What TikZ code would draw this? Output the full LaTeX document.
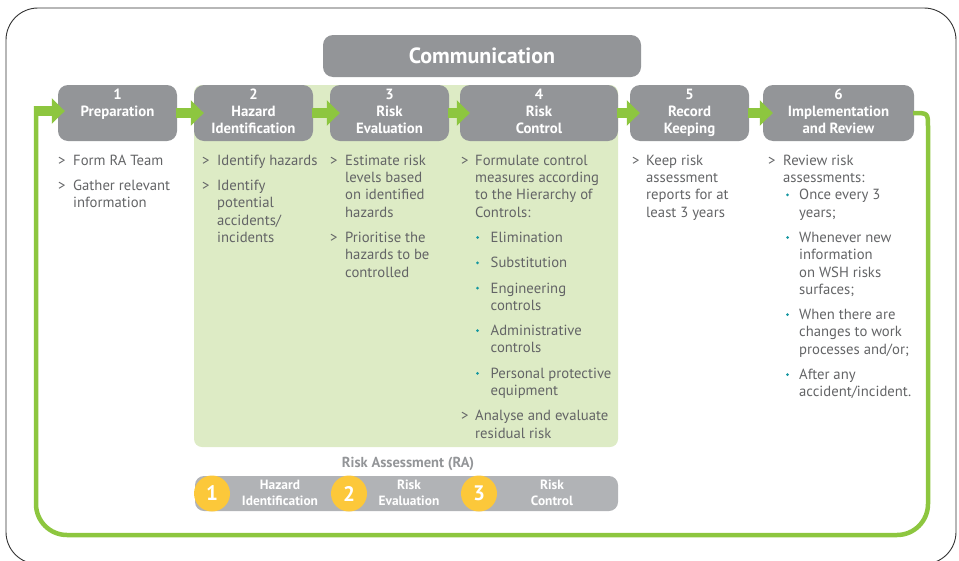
\documentclass[tikz,border=0pt]{standalone}
\usepackage{fontspec}
\setmainfont{PT Sans}
\usetikzlibrary{arrows.meta}
\definecolor{boxgray}{RGB}{147,149,152}
\definecolor{bargray}{RGB}{177,179,182}
\definecolor{panelgreen}{RGB}{221,235,197}
\definecolor{arrowgreen}{RGB}{141,198,63}
\definecolor{txtgray}{RGB}{99,100,102}
\definecolor{bulteal}{RGB}{20,150,160}
\definecolor{yel}{RGB}{252,200,58}
\definecolor{framegray}{RGB}{50,50,50}
\newcommand\stephd[3]{\strut#1\\\strut#2\\\strut#3}
\begin{document}
\begin{tikzpicture}[x=1pt,y=-1pt,
  stepbox/.style={rectangle, rounded corners=10pt, fill=boxgray, text=white,
    minimum height=56pt, inner sep=0pt, align=center,
    font=\bfseries\fontsize{14.8}{16.75}\selectfont},
  commbox/.style={rectangle, rounded corners=10pt, fill=boxgray, text=white,
    minimum width=318pt, minimum height=42pt, inner sep=0pt,
    font=\bfseries\fontsize{22}{26}\selectfont},
  garrow/.style={draw=arrowgreen, line width=10pt,
    -{Triangle[length=13pt,width=25pt]}},
  gline/.style={draw=arrowgreen, line width=4.5pt},
  body/.style={anchor=north west, yshift=12.11pt, inner sep=0pt, align=left,
    text=txtgray, font=\fontsize{14.7}{17.3}\selectfont},
  gt/.style={anchor=base west, inner sep=0pt, text=txtgray,
    font=\fontsize{14.7}{17.3}\selectfont},
  bul/.style={circle, fill=bulteal, inner sep=0pt, minimum size=3pt},
  numc/.style={circle, fill=yel, text=white, inner sep=0pt, minimum size=36pt,
    font=\bfseries\fontsize{21}{24}\selectfont},
  barlbl/.style={inner sep=0pt, align=center, text=white,
    font=\bfseries\fontsize{13.4}{16}\selectfont},
]
\useasboundingbox (0,0) rectangle (959,560);
% outer frame
\draw[framegray, line width=0.9pt, rounded corners=32pt] (6,8) rectangle (956,564);
% light green panel
\fill[panelgreen, rounded corners=8pt] (194,85) rectangle (618,447);
% communication
\node[commbox] (comm) at (482,56) {Communication};
% step boxes
\node[stepbox, minimum width=119pt] (b1) at (117.5,113) {\stephd{1}{Preparation}{}};
\node[stepbox, minimum width=119pt] (b2) at (253.5,113) {\stephd{2}{Hazard}{Identification}};
\node[stepbox, minimum width=119pt] (b3) at (389.5,113) {\stephd{3}{Risk}{Evaluation}};
\node[stepbox, minimum width=158pt] (b4) at (539,113) {\stephd{4}{Risk}{Control}};
\node[stepbox, minimum width=119pt] (b5) at (689.5,113) {\stephd{5}{Record}{Keeping}};
\node[stepbox, minimum width=151pt] (b6) at (838.5,113) {\stephd{6}{Implementation}{and Review}};
% arrows between steps
\draw[garrow] ([xshift=-1pt]b1.east) -- ([xshift=10pt]b2.west);
\draw[garrow] ([xshift=-1pt]b2.east) -- ([xshift=10pt]b3.west);
\draw[garrow] ([xshift=-1pt]b3.east) -- ([xshift=10pt]b4.west);
\draw[garrow] ([xshift=-1pt]b4.east) -- ([xshift=10pt]b5.west);
\draw[garrow] ([xshift=-1pt]b5.east) -- ([xshift=10pt]b6.west);
% feedback loop
\coordinate (lpA) at (928,127);
\coordinate (lpB) at (928,535);
\coordinate (lpC) at (36,535);
\coordinate (lpD) at (36,106);
\coordinate (lpE) at (33.75,111);
\draw[gline] ([xshift=-1pt]b6.east) .. controls (928,113) .. (lpA)
  [rounded corners=31pt] -- (lpB) -- (lpC) -- (lpD);
\draw[garrow] (lpE) -- ([xshift=7pt,yshift=2pt]b1.west);
% column 1
\node[gt] (g1a) at (58,165) {>};
\node[body] (t1a) at (73,165) {\strut Form RA Team};
\node[gt] (g1b) at (58,190.3) {>};
\node[body] (t1b) at (73,190.3) {\strut Gather relevant\\\strut information};
% column 2
\node[gt] (g2a) at (202,165) {>};
\node[body] (t2a) at (217,165) {\strut Identify hazards};
\node[gt] (g2b) at (202,190.3) {>};
\node[body] (t2b) at (217,190.3) {\strut Identify\\\strut potential\\\strut accidents/\\\strut incidents};
% column 3
\node[gt] (g3a) at (330,165) {>};
\node[body] (t3a) at (345,165) {\strut Estimate risk\\\strut levels based\\\strut on identified\\\strut hazards};
\node[gt] (g3b) at (330,242.2) {>};
\node[body] (t3b) at (345,242.2) {\strut Prioritise the\\\strut hazards to be\\\strut controlled};
% column 4
\node[gt] (g4a) at (461,165) {>};
\node[body] (t4a) at (475,165) {\strut Formulate control\\\strut measures according\\\strut to the Hierarchy of\\\strut Controls:};
\node[bul] (u4a) at (477.5,237.5) {};
\node[body] (t4b) at (490.5,242.2) {\strut Elimination};
\node[bul] (u4b) at (477.5,262.8) {};
\node[body] (t4c) at (490.5,267.5) {\strut Substitution};
\node[bul] (u4c) at (477.5,288.1) {};
\node[body] (t4d) at (490.5,292.8) {\strut Engineering\\\strut controls};
\node[bul] (u4d) at (477.5,330.7) {};
\node[body] (t4e) at (490.5,335.4) {\strut Administrative\\\strut controls};
\node[bul] (u4e) at (477.5,373.3) {};
\node[body] (t4f) at (490.5,378) {\strut Personal protective\\\strut equipment};
\node[gt] (g4b) at (461,420.6) {>};
\node[body] (t4g) at (475,420.6) {\strut Analyse and evaluate\\\strut residual risk};
% column 5
\node[gt] (g5a) at (632,165) {>};
\node[body] (t5a) at (646,165) {\strut Keep risk\\\strut assessment\\\strut reports for at\\\strut least 3 years};
% column 6
\node[gt] (g6a) at (768,165) {>};
\node[body] (t6a) at (783,165) {\strut Review risk\\\strut assessments:};
\node[bul] (u6a) at (787.5,194.9) {};
\node[body] (t6b) at (799,199.6) {\strut Once every 3\\\strut years;};
\node[bul] (u6b) at (787.5,237.5) {};
\node[body] (t6c) at (799,242.2) {\strut Whenever new\\\strut information\\\strut on WSH risks\\\strut surfaces;};
\node[bul] (u6c) at (787.5,314.7) {};
\node[body] (t6d) at (799,319.4) {\strut When there are\\\strut changes to work\\\strut processes and/or;};
\node[bul] (u6d) at (787.5,374.6) {};
\node[body] (t6e) at (799,379.3) {\strut After any\\\strut accident/incident.};
% risk assessment bar
\node[anchor=base, inner sep=0pt, text=boxgray, font=\bfseries\fontsize{14.5}{17}\selectfont] (ra) at (408,467) {Risk Assessment (RA)};
\node[rectangle, rounded corners=9pt, fill=bargray, minimum width=423pt, minimum height=35pt, inner sep=0pt] (bar) at (406.5,493.5) {};
\node[numc] (n1) at (212,493.5) {1};
\node[numc] (n2) at (349,493.5) {2};
\node[numc] (n3) at (479,493.5) {3};
\node[barlbl] (l1) at (280,494) {\strut Hazard\\\strut Identification};
\node[barlbl] (l2) at (409,494) {\strut Risk\\\strut Evaluation};
\node[barlbl] (l3) at (552,494) {\strut Risk\\\strut Control};
\end{tikzpicture}
\end{document}
